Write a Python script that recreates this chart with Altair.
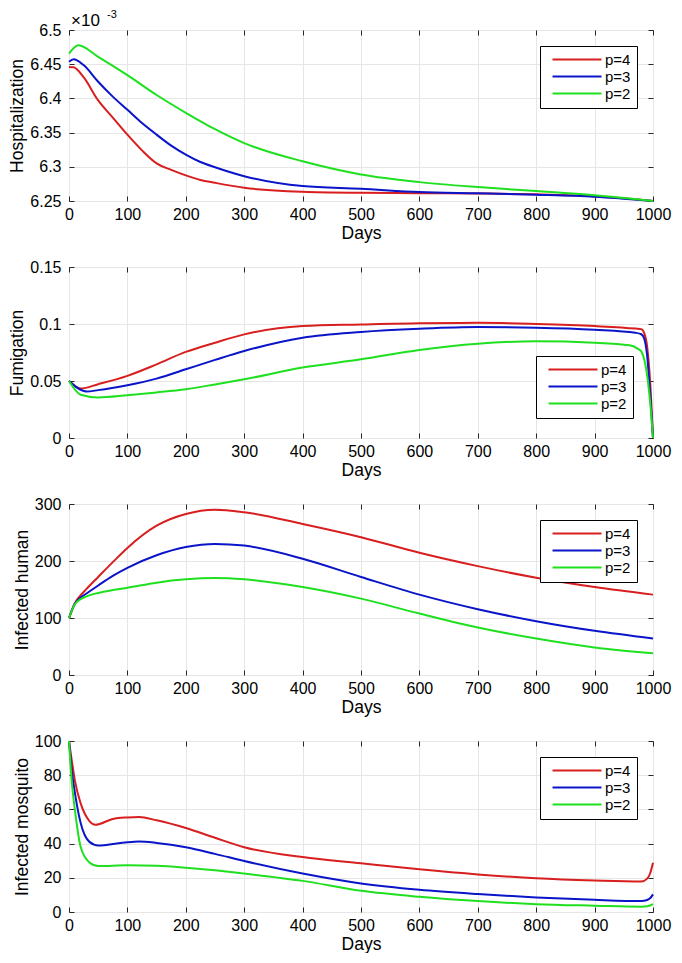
import altair as alt
import pandas as pd

FONT = "Liberation Sans"
SERIES = ["p=4", "p=3", "p=2"]
COLORS = ["#d81e1e", "#0a14c8", "#1fe01f"]
X_TICKS = [0, 100, 200, 300, 400, 500, 600, 700, 800, 900, 1000]

# ---- Panel 1: Hospitalization (values in units of 1e-3) ----
hosp_red_days = [0, 8, 25, 50, 75, 100, 125, 150, 175, 200, 225, 250, 300, 400, 500, 600, 700, 800, 900, 1000]
hosp_red = [6.446, 6.4455, 6.431, 6.397, 6.372, 6.347, 6.324, 6.305, 6.2955, 6.2875, 6.2808, 6.2766, 6.2693, 6.2635, 6.262, 6.2615, 6.261, 6.2597, 6.2568, 6.25]
hosp_blue_days = [0, 8, 25, 50, 75, 100, 125, 150, 175, 200, 225, 250, 300, 400, 500, 600, 700, 800, 900, 1000]
hosp_blue = [6.4535, 6.4574, 6.4487, 6.4244, 6.4026, 6.3833, 6.364, 6.347, 6.331, 6.3178, 6.307, 6.2994, 6.2863, 6.2718, 6.2679, 6.2631, 6.2612, 6.2592, 6.2563, 6.25]
hosp_green_days = [0, 16, 50, 100, 150, 200, 250, 300, 400, 500, 600, 700, 800, 900, 1000]
hosp_green = [6.4656, 6.4777, 6.4608, 6.434, 6.405, 6.379, 6.355, 6.3347, 6.308, 6.2888, 6.2776, 6.2703, 6.2645, 6.2583, 6.25]
hosp_ticks = [6.25, 6.3, 6.35, 6.4, 6.45, 6.5]
EXP_BASE = "×10"
EXP_POW = "-3"

# ---- Panel 2: Fumigation ----
fum_red_days = [0, 20, 50, 100, 150, 200, 250, 300, 400, 500, 600, 700, 800, 900, 970, 980, 985, 990, 995, 1000]
fum_red = [0.050, 0.0434, 0.0472, 0.0545, 0.0646, 0.0755, 0.0836, 0.0909, 0.0982, 0.0996, 0.1007, 0.101, 0.100, 0.0982, 0.096, 0.0955, 0.092, 0.080, 0.050, 0.0]
fum_blue_days = [0, 30, 50, 100, 150, 200, 250, 300, 400, 500, 600, 700, 800, 900, 970, 980, 985, 990, 995, 1000]
fum_blue = [0.050, 0.0408, 0.042, 0.0463, 0.0521, 0.0603, 0.0685, 0.0763, 0.088, 0.093, 0.0958, 0.0973, 0.0968, 0.095, 0.0923, 0.091, 0.087, 0.072, 0.040, 0.0]
fum_green_days = [0, 20, 50, 100, 150, 200, 250, 300, 400, 500, 600, 700, 800, 900, 960, 975, 980, 990, 995, 1000]
fum_green = [0.050, 0.038, 0.0356, 0.0376, 0.040, 0.0428, 0.047, 0.0515, 0.0618, 0.069, 0.0772, 0.0827, 0.0848, 0.0836, 0.0813, 0.078, 0.076, 0.055, 0.032, 0.0]
fum_ticks = [0, 0.05, 0.1, 0.15]

# ---- Panel 3: Infected human ----
ih_days = [0, 10, 20, 30, 50, 75, 100, 150, 200, 250, 300, 400, 500, 600, 700, 800, 900, 1000]
ih_red = [100, 126, 140, 151, 172, 198, 223, 262, 282.5, 290, 285.5, 265, 241.8, 214.4, 191, 170.7, 154.4, 141]
ih_blue = [100, 125, 136, 143, 157, 174, 188, 210, 224.4, 230, 227, 204, 172, 141, 115.4, 94.4, 77.5, 64]
ih_green = [100, 124, 133, 138, 144, 149, 153, 162, 167.8, 170, 167.8, 154.4, 134, 107.8, 83.3, 64, 48.4, 38]
ih_ticks = [0, 100, 200, 300]

# ---- Panel 4: Infected mosquito ----
im_red_days = [0, 5, 10, 20, 35, 45, 75, 100, 120, 150, 200, 250, 300, 400, 500, 600, 700, 800, 900, 980, 990, 995, 1000]
im_red = [100, 88, 77, 63.5, 53.2, 51, 54.4, 55.3, 55.6, 53.6, 49.1, 43.4, 37.9, 32.1, 28.5, 25, 22, 19.7, 18.4, 17.8, 19.5, 22.5, 28.8]
im_blue_days = [0, 5, 10, 20, 35, 50, 60, 75, 100, 120, 150, 200, 250, 300, 400, 500, 600, 700, 800, 900, 980, 990, 995, 1000]
im_blue = [100, 82, 70, 52, 41, 38.9, 39.1, 39.8, 40.8, 41.2, 40.4, 37.9, 34, 29.8, 22.5, 16.7, 13, 10.5, 8.5, 7.1, 6.4, 7, 8, 10.3]
im_green_days = [0, 5, 10, 20, 35, 50, 100, 150, 200, 250, 300, 400, 500, 600, 700, 800, 900, 980, 990, 995, 1000]
im_green = [100, 75, 60, 38, 29, 26.9, 27.3, 27, 25.9, 24.4, 22.5, 18.2, 12.4, 8.9, 6.4, 4.6, 3.7, 3.1, 3.3, 3.8, 4.6]
im_ticks = [0, 20, 40, 60, 80, 100]

W, H = 584, 171
LABEL_EXPR = "format(datum.value, '.4~r')"


def frame(pairs):
    rows = []
    for name, days, vals in pairs:
        for d, v in zip(days, vals):
            rows.append({"day": d, "value": v, "series": name})
    return pd.DataFrame(rows)


def panel(df, ytitle, ydom, yticks, lorient, loffset, extra=None):
    base = alt.Chart(df)
    legend = alt.Legend(
        title=None, orient=lorient, offset=loffset,
        symbolType="M-0.33,0H16", symbolSize=36, symbolStrokeWidth=2,
        labelOffset=44, padding=6, strokeColor="#000", fillColor="#fff",
        labelFontSize=15, labelColor="#000", rowPadding=1, labelFont=FONT,
    )
    main = base.mark_line(strokeWidth=2, interpolate="monotone").encode(
        x=alt.X("day:Q", scale=alt.Scale(domain=[0, 1000], nice=False, zero=False),
                axis=alt.Axis(values=X_TICKS, title="Days", grid=True, labelFlush=False,
                              labelOverlap=False, offset=-5, tickSize=5, domain=False,
                              format="d", labelPadding=5, titlePadding=2)),
        y=alt.Y("value:Q", scale=alt.Scale(domain=ydom, nice=False, zero=False),
                axis=alt.Axis(values=yticks, title=ytitle, grid=True, offset=-5, tickSize=5,
                              domain=False, labelExpr=LABEL_EXPR, labelPadding=8,
                              titlePadding=3, labelOverlap=False)),
        color=alt.Color("series:N", scale=alt.Scale(domain=SERIES, range=COLORS),
                        sort=SERIES, legend=legend),
    )
    ghost = base.mark_line(opacity=0).encode(
        x=alt.X("day:Q", axis=alt.Axis(orient="top", values=X_TICKS, labels=False, title=None,
                                       grid=False, domain=False, offset=-5, tickSize=5)),
        y=alt.Y("value:Q", axis=alt.Axis(orient="right", values=yticks, labels=False, title=None,
                                         grid=False, domain=False, offset=-5, tickSize=5)),
        detail="series:N",
    )
    layers = [main, ghost] + (extra or [])
    return alt.layer(*layers).resolve_axis(x="independent", y="independent").properties(width=W, height=H)


p1_df = frame([("p=4", hosp_red_days, hosp_red), ("p=3", hosp_blue_days, hosp_blue),
               ("p=2", hosp_green_days, hosp_green)])
exp_a = alt.Chart(pd.DataFrame({"t": [EXP_BASE]})).mark_text(
    align="left", baseline="alphabetic", fontSize=17, font=FONT, color="#000"
).encode(x=alt.value(2), y=alt.value(-4), text="t:N")
exp_b = alt.Chart(pd.DataFrame({"t": [EXP_POW]})).mark_text(
    align="left", baseline="alphabetic", fontSize=11, font=FONT, color="#000"
).encode(x=alt.value(38), y=alt.value(-12), text="t:N")
p1 = panel(p1_df, "Hospitalization", [6.25, 6.5], hosp_ticks, "top-right", 16, [exp_a, exp_b])

p2_df = frame([("p=4", fum_red_days, fum_red), ("p=3", fum_blue_days, fum_blue),
               ("p=2", fum_green_days, fum_green)])
p2 = panel(p2_df, "Fumigation", [0, 0.15], fum_ticks, "bottom-right", 20)

p3_df = frame([("p=4", ih_days, ih_red), ("p=3", ih_days, ih_blue), ("p=2", ih_days, ih_green)])
p3 = panel(p3_df, "Infected human", [0, 300], ih_ticks, "top-right", 16)

p4_df = frame([("p=4", im_red_days, im_red), ("p=3", im_blue_days, im_blue),
               ("p=2", im_green_days, im_green)])
p4 = panel(p4_df, "Infected mosquito", [0, 100], im_ticks, "top-right", 16)

chart = (
    alt.vconcat(p1, p2, p3, p4, spacing=16)
    .resolve_scale(color="independent")
    .resolve_legend(color="independent")
    .properties(padding=0)
    .configure(font=FONT)
    .configure_view(stroke="#262626", strokeWidth=1)
    .configure_axis(labelFont=FONT, titleFont=FONT, labelFontSize=16, titleFontSize=17.5,
                    titleFontWeight="normal", labelColor="#000", titleColor="#000",
                    tickColor="#262626", gridColor="#e6e6e6", gridWidth=1, tickWidth=1)
)

chart.save("out.html", embed_options={"renderer": "svg", "actions": False})
